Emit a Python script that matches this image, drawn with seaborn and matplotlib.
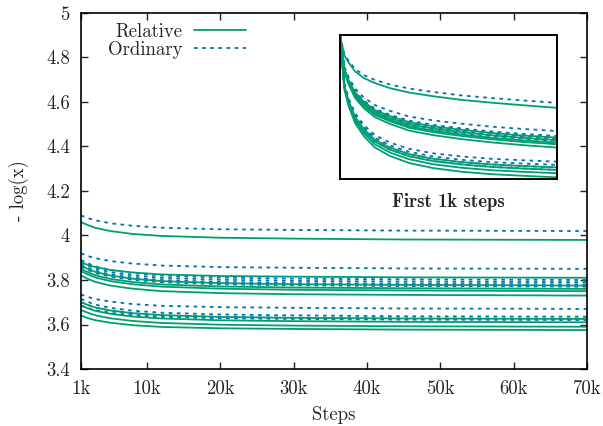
import pandas as pd
import matplotlib
matplotlib.use("Agg")
import matplotlib.pyplot as plt
from matplotlib.lines import Line2D
import seaborn as sns

# main plot: steps 1k..70k
main_steps = [1000, 2000, 3000, 5000, 8000, 12000, 20000, 30000, 45000, 70000]

relative_runs = [
    [4.060, 4.046, 4.034, 4.020, 4.007, 3.998, 3.990, 3.986, 3.982, 3.980],
    [3.880, 3.867, 3.858, 3.845, 3.834, 3.825, 3.818, 3.815, 3.812, 3.810],
    [3.865, 3.849, 3.836, 3.820, 3.806, 3.795, 3.786, 3.781, 3.778, 3.775],
    [3.850, 3.834, 3.821, 3.805, 3.791, 3.780, 3.771, 3.766, 3.763, 3.760],
    [3.840, 3.824, 3.811, 3.795, 3.781, 3.770, 3.761, 3.756, 3.753, 3.750],
    [3.820, 3.804, 3.791, 3.775, 3.761, 3.750, 3.741, 3.736, 3.733, 3.730],
    [3.700, 3.687, 3.676, 3.663, 3.651, 3.642, 3.634, 3.630, 3.627, 3.625],
    [3.685, 3.672, 3.661, 3.648, 3.636, 3.627, 3.619, 3.615, 3.612, 3.610],
    [3.665, 3.652, 3.641, 3.628, 3.616, 3.607, 3.599, 3.595, 3.592, 3.590],
    [3.640, 3.628, 3.619, 3.608, 3.597, 3.589, 3.583, 3.580, 3.577, 3.575],
]
ordinary_runs = [
    [4.090, 4.077, 4.068, 4.055, 4.044, 4.035, 4.028, 4.025, 4.022, 4.020],
    [3.920, 3.907, 3.898, 3.885, 3.874, 3.865, 3.858, 3.855, 3.852, 3.850],
    [3.890, 3.874, 3.861, 3.845, 3.831, 3.820, 3.811, 3.806, 3.803, 3.800],
    [3.880, 3.864, 3.851, 3.835, 3.821, 3.810, 3.801, 3.796, 3.793, 3.790],
    [3.870, 3.854, 3.841, 3.825, 3.811, 3.800, 3.791, 3.786, 3.783, 3.780],
    [3.860, 3.844, 3.831, 3.815, 3.801, 3.790, 3.781, 3.776, 3.773, 3.770],
    [3.735, 3.723, 3.714, 3.703, 3.692, 3.684, 3.678, 3.675, 3.672, 3.670],
    [3.715, 3.701, 3.689, 3.675, 3.662, 3.653, 3.645, 3.641, 3.637, 3.635],
    [3.700, 3.687, 3.676, 3.663, 3.651, 3.642, 3.634, 3.630, 3.627, 3.625],
    [3.685, 3.673, 3.664, 3.653, 3.642, 3.634, 3.628, 3.625, 3.622, 3.620],
]

# inset: first 1k steps
inset_steps = [0, 20, 40, 70, 110, 160, 230, 320, 430, 560, 700, 850, 1000]

inset_relative = [
    [4.500, 4.377, 4.333, 4.280, 4.240, 4.210, 4.179, 4.152, 4.130, 4.108, 4.091, 4.075, 4.060],
    [4.500, 4.295, 4.227, 4.153, 4.097, 4.047, 4.010, 3.973, 3.948, 3.927, 3.908, 3.892, 3.880],
    [4.500, 4.290, 4.221, 4.144, 4.087, 4.036, 3.998, 3.960, 3.935, 3.913, 3.894, 3.878, 3.865],
    [4.500, 4.286, 4.214, 4.136, 4.078, 4.026, 3.987, 3.948, 3.922, 3.899, 3.879, 3.863, 3.850],
    [4.500, 4.282, 4.210, 4.130, 4.071, 4.018, 3.979, 3.939, 3.913, 3.890, 3.870, 3.853, 3.840],
    [4.500, 4.276, 4.201, 4.119, 4.058, 4.004, 3.963, 3.922, 3.895, 3.871, 3.851, 3.834, 3.820],
    [4.500, 4.196, 4.100, 4.004, 3.932, 3.868, 3.820, 3.780, 3.752, 3.732, 3.718, 3.708, 3.700],
    [4.500, 4.190, 4.093, 3.995, 3.921, 3.856, 3.807, 3.767, 3.738, 3.718, 3.703, 3.693, 3.685],
    [4.500, 4.183, 4.083, 3.982, 3.907, 3.840, 3.790, 3.749, 3.719, 3.698, 3.683, 3.673, 3.665],
    [4.500, 4.173, 4.070, 3.967, 3.889, 3.821, 3.769, 3.726, 3.696, 3.674, 3.659, 3.649, 3.640],
]
inset_ordinary = [
    [4.500, 4.385, 4.344, 4.295, 4.258, 4.229, 4.201, 4.176, 4.156, 4.135, 4.119, 4.104, 4.090],
    [4.500, 4.309, 4.245, 4.175, 4.123, 4.077, 4.042, 4.007, 3.984, 3.964, 3.946, 3.932, 3.920],
    [4.500, 4.299, 4.232, 4.158, 4.104, 4.055, 4.018, 3.982, 3.957, 3.936, 3.917, 3.902, 3.890],
    [4.500, 4.295, 4.227, 4.153, 4.097, 4.047, 4.010, 3.973, 3.948, 3.927, 3.908, 3.892, 3.880],
    [4.500, 4.292, 4.223, 4.147, 4.091, 4.040, 4.002, 3.965, 3.939, 3.917, 3.898, 3.883, 3.870],
    [4.500, 4.289, 4.218, 4.142, 4.084, 4.033, 3.994, 3.956, 3.930, 3.908, 3.889, 3.873, 3.860],
    [4.500, 4.209, 4.118, 4.026, 3.957, 3.896, 3.850, 3.812, 3.785, 3.766, 3.752, 3.743, 3.735],
    [4.500, 4.202, 4.108, 4.013, 3.943, 3.880, 3.833, 3.794, 3.766, 3.746, 3.732, 3.723, 3.715],
    [4.500, 4.196, 4.100, 4.004, 3.932, 3.868, 3.820, 3.780, 3.752, 3.732, 3.718, 3.708, 3.700],
    [4.500, 4.190, 4.093, 3.995, 3.921, 3.856, 3.807, 3.767, 3.738, 3.718, 3.703, 3.693, 3.685],
]

x_ticks = [1000, 10000, 20000, 30000, 40000, 50000, 60000, 70000]
x_labels = ["1k", "10k", "20k", "30k", "40k", "50k", "60k", "70k"]
y_ticks = [3.4, 3.6, 3.8, 4.0, 4.2, 4.4, 4.6, 4.8, 5.0]
y_labels = ["3.4", "3.6", "3.8", "4", "4.2", "4.4", "4.6", "4.8", "5"]

GREEN = "#009e73"
BLUE = "#0072b2"
palette = {"Relative": GREEN, "Ordinary": BLUE}
dashes = {"Relative": "", "Ordinary": (2, 2.5)}


def to_long(steps, rel, ordi):
    rows = []
    for kind, runs in (("Ordinary", ordi), ("Relative", rel)):
        for i, run in enumerate(runs):
            for s, v in zip(steps, run):
                rows.append({"step": s, "value": v, "kind": kind, "run": f"{kind}{i}"})
    return pd.DataFrame(rows)


sns.set_style("ticks")
plt.rcParams["font.family"] = ["cmr10", "DejaVu Serif"]
plt.rcParams["axes.formatter.use_mathtext"] = True
plt.rcParams["font.size"] = 13.5

fig = plt.figure(figsize=(6.03, 4.26), dpi=100)
ax = fig.add_axes([0.1343, 0.1338, 0.8391, 0.8357])

df_main = to_long(main_steps, relative_runs, ordinary_runs)
sns.lineplot(data=df_main, x="step", y="value", hue="kind", style="kind",
             units="run", estimator=None, palette=palette, dashes=dashes,
             linewidth=1.3, legend=False, ax=ax)

ax.set_xlim(1000, 70000)
ax.set_ylim(3.4, 5.0)
ax.set_xticks(x_ticks)
ax.set_xticklabels(x_labels)
ax.set_yticks(y_ticks)
ax.set_yticklabels(y_labels)
ax.set_xlabel("Steps", labelpad=6)
ax.set_ylabel("- log(x)", labelpad=12)
ax.tick_params(direction="in", length=5, width=1, top=True, right=True,
               labelsize=13.5, pad=8, colors="#222222")
for sp in ax.spines.values():
    sp.set_linewidth(1.2)
    sp.set_color("black")

handles = [Line2D([], [], color=GREEN, lw=1.3),
           Line2D([], [], color=BLUE, lw=1.3, dashes=(2, 2.5))]
ax.legend(handles, ["Relative", "Ordinary"], loc="upper left",
          bbox_to_anchor=(0.053, 0.973), frameon=False, markerfirst=False,
          handlelength=2.8, handletextpad=0.6, labelspacing=0.0,
          borderpad=0, borderaxespad=0, fontsize=13.5)

# inset
ax_in = fig.add_axes([0.5638, 0.5798, 0.3599, 0.3380])
df_in = to_long(inset_steps, inset_relative, inset_ordinary)
sns.lineplot(data=df_in, x="step", y="value", hue="kind", style="kind",
             units="run", estimator=None, palette=palette, dashes=dashes,
             linewidth=1.3, legend=False, ax=ax_in)
ax_in.set_xlim(0, 1000)
ax_in.set_ylim(3.63, 4.5)
ax_in.set_xticks([])
ax_in.set_yticks([])
ax_in.set_ylabel("")
ax_in.set_xlabel("First 1k steps", fontfamily=["cmb10", "DejaVu Serif"],
                 fontsize=13.5, labelpad=10)
for sp in ax_in.spines.values():
    sp.set_linewidth(1.4)
    sp.set_color("black")

fig.savefig("out.png", dpi=100)
